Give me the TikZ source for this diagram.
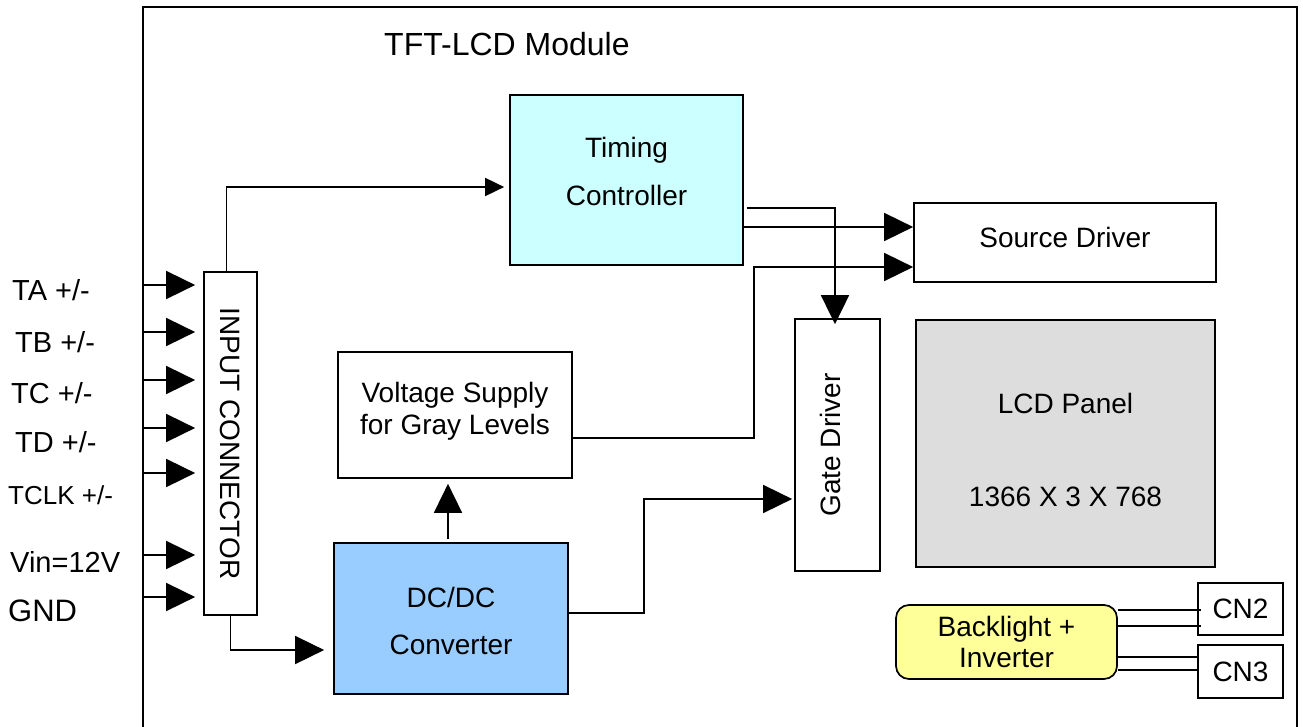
\documentclass[tikz,border=0pt]{standalone}
\usepackage{fontspec}
\setmainfont{Liberation Sans}
\usetikzlibrary{arrows.meta,calc}
\definecolor{tcfill}{HTML}{CCFFFF}
\definecolor{dcfill}{HTML}{99CCFF}
\definecolor{lcdfill}{HTML}{DDDDDD}
\definecolor{blfill}{HTML}{FFFF99}
\begin{document}
\begin{tikzpicture}[x=1pt,y=-1pt,
  box/.style={draw, line width=1.7pt, inner sep=0pt, align=center, font=\fontsize{28}{34}\selectfont},
  rbox/.style={draw, line width=1.7pt, inner sep=0pt, font=\fontsize{28}{34}\selectfont},
  line/.style={line width=1.7pt},
  arrL/.style={line, -{Triangle[length=29pt,width=28pt]}},
  arrS/.style={line, -{Triangle[length=19pt,width=18pt]}},
  lbl/.style={anchor=base west, inner sep=0pt}]
\useasboundingbox (0,0) rectangle (1303,727);
% module frame
\draw[line] (143,740) -- (143,7) -- (1297,7) -- (1297,740);
\node[lbl, font=\fontsize{32}{38}\selectfont] (title) at (384,56) {TFT-LCD Module};
% blocks
\node[box, fill=tcfill, minimum width=233pt, minimum height=170pt] (timing) at (626.5,180) {Timing\\[14pt]Controller\rule[-18pt]{0pt}{18pt}};
\node[box, minimum width=302pt, minimum height=79pt] (source) at (1065,242.5) {Source Driver\rule[-10pt]{0pt}{10pt}};
\node[box, minimum width=234pt, minimum height=126pt] (volt) at (455,415) {Voltage Supply\\[-2pt]for Gray Levels\rule[-14pt]{0pt}{14pt}};
\node[rbox, minimum width=85pt, minimum height=252pt] (gate) at (837.5,445) {\rotatebox{90}{Gate Driver}\kern14pt};
\node[rbox, minimum width=53pt, minimum height=343pt] (conn) at (230.5,443.5) {\rotatebox{-90}{INPUT CONNECTOR}};
\node[box, fill=dcfill, minimum width=234pt, minimum height=151pt] (dcdc) at (451,618.5) {\rule{0pt}{26pt}DC/DC\\[13pt]Converter};
\node[box, fill=lcdfill, minimum width=299pt, minimum height=247pt] (lcd) at (1065.5,443.5) {\rule{0pt}{34pt}LCD Panel\\[59pt]1366 X 3 X 768};
\node[box, fill=blfill, rounded corners=13pt, minimum width=221pt, minimum height=74pt] (bl) at (1006.5,642) {Backlight +\\[-3pt]Inverter};
\node[box, minimum width=85pt, minimum height=52pt] (cn2) at (1240.5,609) {CN2};
\node[box, minimum width=85pt, minimum height=53pt] (cn3) at (1240.5,671.5) {CN3};
% input labels
\node[lbl, font=\fontsize{29}{34}\selectfont] (lTA) at (12,300) {TA +/-};
\node[lbl, font=\fontsize{29}{34}\selectfont] (lTB) at (15,352) {TB +/-};
\node[lbl, font=\fontsize{29}{34}\selectfont] (lTC) at (11,403) {TC +/-};
\node[lbl, font=\fontsize{29}{34}\selectfont] (lTD) at (15,452) {TD +/-};
\node[lbl, font=\fontsize{26}{30}\selectfont] (lTCLK) at (8,504) {TCLK +/-};
\node[lbl, font=\fontsize{29}{34}\selectfont] (lVin) at (10,572) {Vin=12V};
\node[lbl, font=\fontsize{31}{36}\selectfont] (lGND) at (8,621) {GND};
% input arrows
\foreach \n/\y in {TA/285, TB/332, TC/380, TD/428, TCLK/473, Vin/555, GND/597} {
  \coordinate (in\n) at (143,\y);
  \draw[arrL, shorten >=8pt] (in\n) -- (in\n -| conn.west);
}
% connectors
\draw[arrS, shorten >=5pt] ($(conn.north)+(-4,0)$) |- ($(timing.west)+(0,7)$);
\draw[arrL] ($(timing.east)+(0,47)$) -- ($(timing.east -| source.west)+(0,47)$);
\draw[arrL] ($(timing.east)+(3,28)$) -| ($(gate.north)+(-2.5,6)$);
\draw[arrL] ($(volt.east)+(0,23)$) -| ($(source.west)+(-159,24.5)$) -- ($(source.west)+(0,24.5)$);
\draw[arrL] ($(dcdc.north)+(-3,-3)$) -- ($(dcdc.north |- volt.south)+(-3,5)$);
\draw[arrL] ($(dcdc.east)+(0,-5.5)$) -- ++(75,0) |- ($(gate.west)+(-2,54)$);
\draw[arrL] (conn.south) |- ($(dcdc.west)+(-9,31.5)$);
% backlight to connectors
\draw[line] ($(bl.east)+(0,-32)$) -- ($(bl.east -| cn2.west)+(4,-32)$);
\draw[line] ($(bl.east)+(0,-16)$) -- ($(bl.east -| cn2.west)+(4,-16)$);
\draw[line] ($(bl.east)+(0,15)$) -- ($(bl.east -| cn3.west)+(0,15)$);
\draw[line] ($(bl.east)+(0,28)$) -- ($(bl.east -| cn3.west)+(0,28)$);
\end{tikzpicture}
\end{document}
